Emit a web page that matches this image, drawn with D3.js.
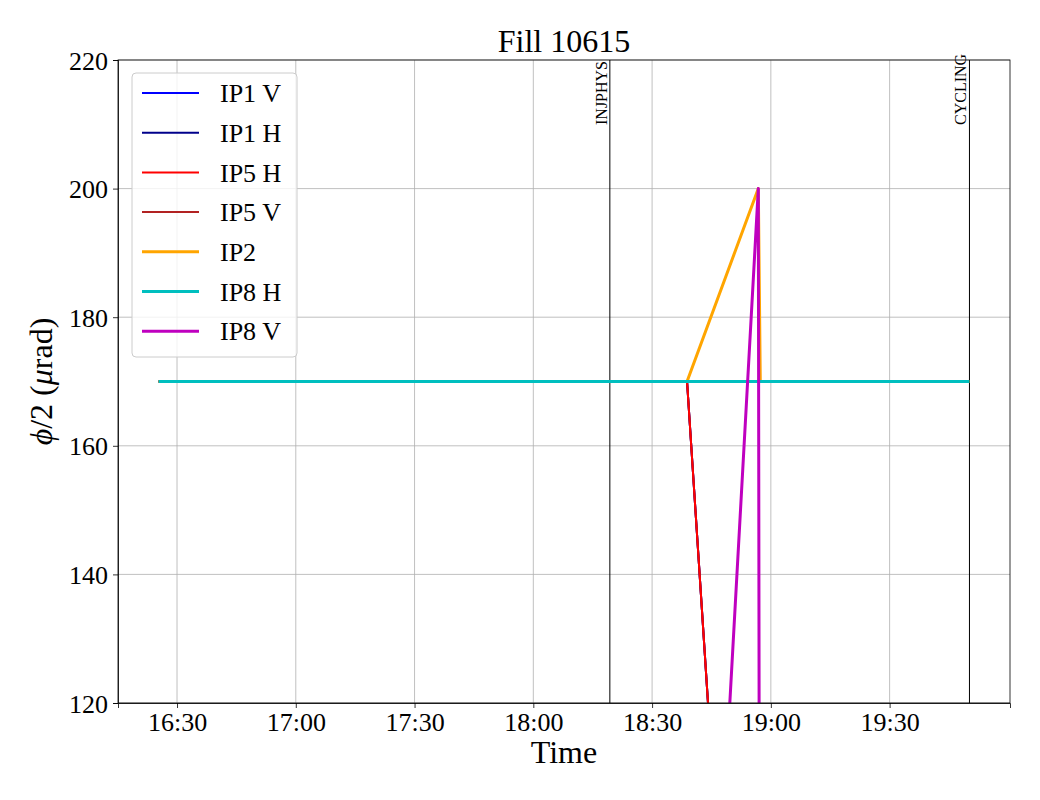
<!DOCTYPE html>
<html lang="en">
<head>
  <meta charset="UTF-8">
  <title>Fill 10615</title>
  <style>
    body { margin: 0; background: #fff; }
    svg text { font-family: "Times New Roman", "Liberation Serif", Times, serif; fill: #000; }
    .grid line { stroke: #b0b0b0; stroke-width: 0.8; }
    .axis path, .axis line { stroke: #000; stroke-width: 0.8; }
  </style>
</head>
<body>
  <script src="https://d3js.org/d3.v7.min.js"></script>
  <script>
    // data
    const times = ['16:25:20', '18:38:50', '18:56:50', '18:57:20', '19:50:10'];
    const ip1v = [170, 170, 0, 0, 0];
    const ip1h = [170, 170, 0, 0, 0];
    const ip5v = [170, 170, 0, 0, 0];
    const ip5h = [170, 170, 0, 0, 0];
    const ip2  = [170, 170, 200, 170, 170];
    const ip8h = [170, 170, 170, 170, 170];
    const ip8v = [0, 0, 200, 0, 0];

    const markers = [
      { time: '18:19:20', label: 'INJPHYS' },
      { time: '19:50:10', label: 'CYCLING' }
    ];
    const xTicks = ['16:30', '17:00', '17:30', '18:00', '18:30', '19:00', '19:30'];
    const yTicks = [120, 140, 160, 180, 200, 220];

    // draw order (last on top) and legend order differ
    const series = [
      { name: 'IP1 V', values: ip1v, color: '#0000ff', width: 2 },
      { name: 'IP1 H', values: ip1h, color: '#00008b', width: 2 },
      { name: 'IP5 V', values: ip5v, color: '#b22222', width: 2 },
      { name: 'IP5 H', values: ip5h, color: '#ff0000', width: 2 },
      { name: 'IP2',   values: ip2,  color: '#ffa500', width: 3 },
      { name: 'IP8 H', values: ip8h, color: '#00bfbf', width: 3 },
      { name: 'IP8 V', values: ip8v, color: '#bf00bf', width: 3 }
    ];
    const legendOrder = ['IP1 V', 'IP1 H', 'IP5 H', 'IP5 V', 'IP2', 'IP8 H', 'IP8 V'];

    const FONT = '"Times New Roman", "Liberation Serif", Times, serif';
    const parse = d3.timeParse('%H:%M:%S');
    const parseHM = d3.timeParse('%H:%M');

    const W = 1040, H = 800;
    const margin = { top: 60, right: 30, bottom: 97, left: 118 };
    const iw = W - margin.left - margin.right;
    const ih = H - margin.top - margin.bottom;

    const svg = d3.select('body').append('svg')
      .attr('width', W).attr('height', H)
      .style('font-family', FONT);

    // x domain: data range plus 5% margins like matplotlib
    const t0 = parse(times[0]), t1 = parse(times[times.length - 1]);
    const pad = (t1 - t0) * 0.05;
    const x = d3.scaleTime()
      .domain([new Date(+t0 - pad), new Date(+t1 + pad)])
      .range([0, iw]);
    const y = d3.scaleLinear().domain([120, 220]).range([ih, 0]);

    const g = svg.append('g').attr('transform', `translate(${margin.left},${margin.top})`);

    svg.append('defs').append('clipPath').attr('id', 'clip')
      .append('rect').attr('width', iw).attr('height', ih);

    // grid
    const grid = g.append('g').attr('class', 'grid');
    grid.selectAll('.gx').data(xTicks).join('line')
      .attr('x1', d => x(parseHM(d))).attr('x2', d => x(parseHM(d)))
      .attr('y1', 0).attr('y2', ih);
    grid.selectAll('.gy').data(yTicks).join('line')
      .attr('x1', 0).attr('x2', iw)
      .attr('y1', d => y(d)).attr('y2', d => y(d));

    // event markers
    const mk = g.append('g');
    markers.forEach(m => {
      const xm = x(parse(m.time));
      mk.append('line')
        .attr('x1', xm).attr('x2', xm).attr('y1', 0).attr('y2', ih)
        .attr('stroke', '#000').attr('stroke-width', 1);
      mk.append('text')
        .attr('transform', `translate(${xm - 3},65) rotate(-90)`)
        .attr('font-size', 16)
        .text(m.label);
    });

    // series lines
    const line = d3.line()
      .x((d, i) => x(parse(times[i])))
      .y(d => y(d));
    const lines = g.append('g').attr('clip-path', 'url(#clip)');
    series.forEach(s => {
      lines.append('path')
        .attr('d', line(s.values))
        .attr('fill', 'none')
        .attr('stroke', s.color)
        .attr('stroke-width', s.width)
        .attr('stroke-linejoin', 'round');
    });

    // axes
    const xAxis = d3.axisBottom(x)
      .tickValues(xTicks.map(parseHM))
      .tickFormat(d3.timeFormat('%H:%M'))
      .tickSizeOuter(0).tickSize(5).tickPadding(5);
    const yAxis = d3.axisLeft(y)
      .tickValues(yTicks).tickSizeOuter(0).tickSize(5).tickPadding(5);

    const gx = g.append('g').attr('class', 'axis')
      .attr('transform', `translate(0,${ih})`).call(xAxis);
    const gy = g.append('g').attr('class', 'axis').call(yAxis);
    [gx, gy].forEach(a => {
      a.attr('font-family', null).attr('font-size', null);
      a.selectAll('text').attr('font-size', 26).style('font-family', FONT);
    });
    gy.selectAll('text').attr('dy', '0.35em');

    // frame
    g.append('rect').attr('width', iw).attr('height', ih)
      .attr('fill', 'none').attr('stroke', '#000').attr('stroke-width', 0.8);

    // legend
    const leg = g.append('g').attr('transform', 'translate(14,13)');
    leg.append('rect')
      .attr('width', 165).attr('height', 284).attr('rx', 4)
      .attr('fill', 'rgba(255,255,255,0.8)')
      .attr('stroke', '#ccc').attr('stroke-width', 1);
    legendOrder.forEach((name, i) => {
      const s = series.find(d => d.name === name);
      const yy = 20 + i * 39.7;
      leg.append('line')
        .attr('x1', 10).attr('x2', 67).attr('y1', yy).attr('y2', yy)
        .attr('stroke', s.color).attr('stroke-width', s.width);
      leg.append('text')
        .attr('x', 88).attr('y', yy).attr('dy', '0.35em')
        .attr('font-size', 26).text(name);
    });

    // titles
    svg.append('text')
      .attr('x', margin.left + iw / 2).attr('y', 52)
      .attr('text-anchor', 'middle').attr('font-size', 32)
      .text('Fill 10615');
    svg.append('text')
      .attr('x', margin.left + iw / 2).attr('y', 763)
      .attr('text-anchor', 'middle').attr('font-size', 32)
      .text('Time');
    const yl = svg.append('text')
      .attr('transform', `translate(52,${margin.top + ih / 2}) rotate(-90)`)
      .attr('text-anchor', 'middle').attr('font-size', 32);
    yl.append('tspan').attr('font-style', 'italic').text('ϕ');
    yl.append('tspan').text('/2 (');
    yl.append('tspan').attr('font-style', 'italic').text('μ');
    yl.append('tspan').text('rad)');
  </script>
</body>
</html>
